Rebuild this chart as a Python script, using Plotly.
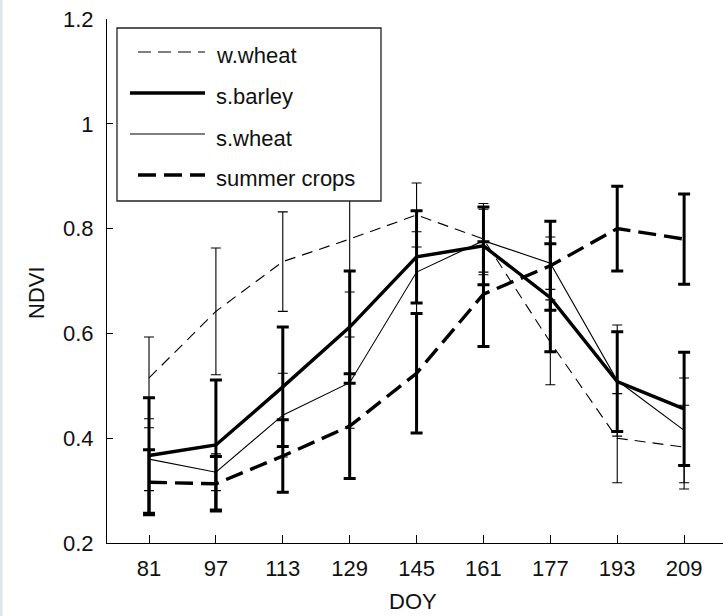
import plotly.graph_objects as go

# Day of year of each acquisition
doy = [81, 97, 113, 129, 145, 161, 177, 193, 209]

# Mean NDVI and standard deviation per crop type
w_wheat_mean = [0.515, 0.642, 0.737, 0.780, 0.826, 0.780, 0.583, 0.400, 0.383]
w_wheat_sd = [0.078, 0.121, 0.095, 0.101, 0.061, 0.068, 0.081, 0.085, 0.080]

s_barley_mean = [0.367, 0.387, 0.498, 0.612, 0.746, 0.767, 0.668, 0.508, 0.456]
s_barley_sd = [0.110, 0.124, 0.114, 0.107, 0.088, 0.074, 0.103, 0.095, 0.108]

s_wheat_mean = [0.360, 0.335, 0.444, 0.506, 0.717, 0.777, 0.734, 0.510, 0.415]
s_wheat_sd = [0.060, 0.035, 0.080, 0.087, 0.077, 0.060, 0.050, 0.106, 0.100]

summer_mean = [0.316, 0.313, 0.366, 0.423, 0.524, 0.675, 0.729, 0.800, 0.780]
summer_sd = [0.062, 0.052, 0.069, 0.100, 0.114, 0.100, 0.085, 0.081, 0.086]

y_ticks = [0.2, 0.4, 0.6, 0.8, 1.0, 1.2]
y_tick_text = ["0.2", "0.4", "0.6", "0.8", "1", "1.2"]

series_names = ["w.wheat", "s.barley", "s.wheat", "summer crops"]

# Figure geometry (pixels)
W, H = 723, 616
ML, MT, MB, MR = 107, 19, 73, 0
PW, PH = W - ML - MR, H - MT - MB

FONT = "Liberation Sans, Arial, Helvetica, sans-serif"
INK = "#111111"


def px(x):
    return (x - ML) / PW


def py(y):
    return (H - MB - y) / PH


styles = [
    dict(width=1.1, dash="11px,7px", ebw=1.1, cap=5),
    dict(width=3.4, dash="solid", ebw=3.0, cap=6),
    dict(width=1.1, dash="solid", ebw=1.1, cap=5),
    dict(width=3.4, dash="18px,8px", ebw=3.0, cap=6),
]
means = [w_wheat_mean, s_barley_mean, s_wheat_mean, summer_mean]
sds = [w_wheat_sd, s_barley_sd, s_wheat_sd, summer_sd]

fig = go.Figure()
for name, m, s, st in zip(series_names, means, sds, styles):
    fig.add_trace(go.Scatter(
        x=doy, y=m, name=name, mode="lines",
        line=dict(color="black", width=st["width"], dash=st["dash"]),
        error_y=dict(type="data", array=s, symmetric=True, visible=True,
                     color="black", thickness=st["ebw"], width=st["cap"]),
        showlegend=False,
    ))

# Hand-built legend box in the upper left of the axes
shapes = [
    dict(type="rect", xref="paper", yref="paper",
         x0=px(117), x1=px(381), y0=py(201), y1=py(28),
         fillcolor="white", line=dict(color="#222222", width=1.3), layer="above"),
    dict(type="rect", xref="paper", yref="paper",
         x0=px(0), x1=px(2.5), y0=py(H), y1=py(0),
         fillcolor="#dfe5ec", line=dict(width=0), layer="above"),
]
annotations = []
row_y = [52, 93, 134, 175]
for name, st, ry in zip(series_names, styles, row_y):
    x_start = 130 if st["dash"] == "solid" else 138
    sample_dash = "13px,7px" if st["width"] < 2 and st["dash"] != "solid" else st["dash"]
    shapes.append(dict(type="line", xref="paper", yref="paper",
                       x0=px(x_start), x1=px(205), y0=py(ry), y1=py(ry),
                       line=dict(color="black", width=st["width"], dash=sample_dash),
                       layer="above"))
    annotations.append(dict(text=name, xref="paper", yref="paper",
                            x=px(214), y=py(ry + 4), xanchor="left", yanchor="middle",
                            showarrow=False, font=dict(family=FONT, size=22, color=INK)))

annotations.append(dict(text="NDVI", xref="paper", yref="paper", textangle=-90,
                        x=px(37), y=py(293), xanchor="center", yanchor="middle",
                        showarrow=False, font=dict(family=FONT, size=22, color=INK)))
annotations.append(dict(text="DOY", xref="paper", yref="paper",
                        x=px(413), y=py(615), xanchor="center", yanchor="bottom",
                        borderpad=0, showarrow=False,
                        font=dict(family=FONT, size=22, color=INK)))

fig.update_layout(
    width=W, height=H,
    margin=dict(l=ML, r=MR, t=MT, b=MB, pad=0),
    paper_bgcolor="white", plot_bgcolor="white",
    font=dict(family=FONT, size=22, color=INK),
    shapes=shapes, annotations=annotations,
    showlegend=False,
)
fig.update_xaxes(
    range=[70.95, 218.3], tickvals=doy, ticktext=[str(d) for d in doy],
    ticks="inside", ticklen=8, tickcolor="black", tickwidth=1.2,
    showline=True, linecolor="black", linewidth=1.2, mirror=False,
    showgrid=False, zeroline=False, ticklabelstandoff=5,
)
fig.update_yaxes(
    range=[0.2, 1.2], tickvals=y_ticks, ticktext=y_tick_text,
    ticks="inside", ticklen=6, tickcolor="black", tickwidth=1.2,
    showline=True, linecolor="black", linewidth=1.2, mirror=False,
    showgrid=False, zeroline=False, ticklabelstandoff=8,
)

fig.write_html("out.html")
